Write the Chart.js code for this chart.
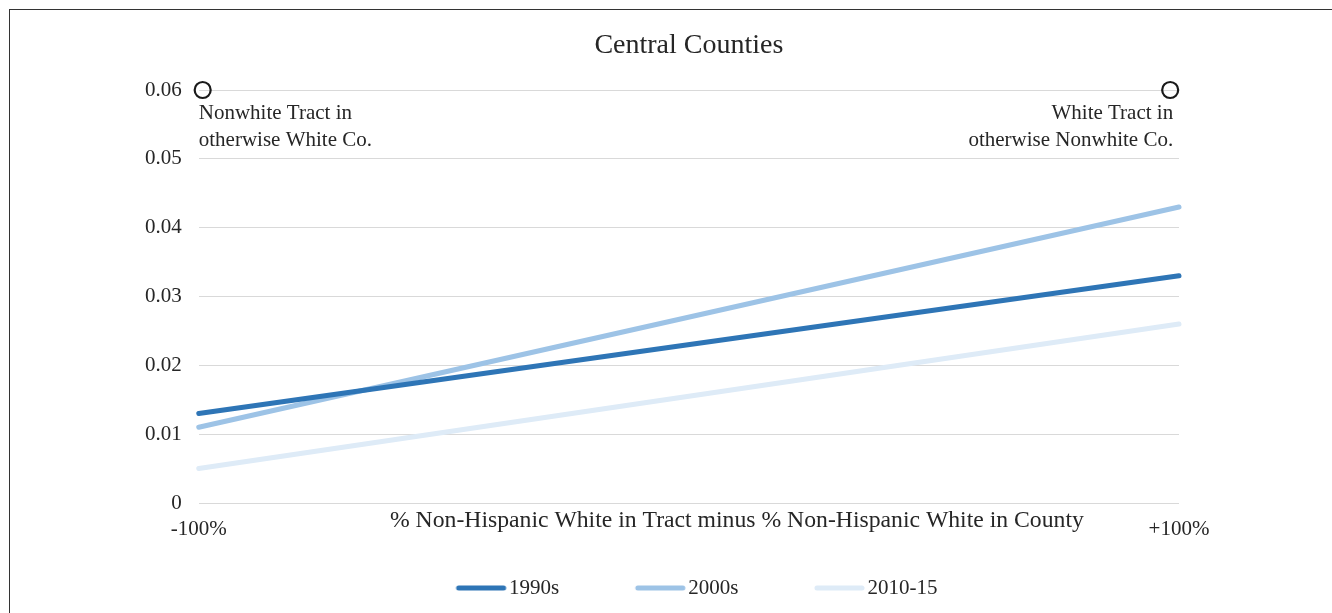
<!DOCTYPE html>
<html>
<head>
<meta charset="utf-8">
<script src="https://cdn.jsdelivr.net/npm/chart.js@4.4.1/dist/chart.umd.min.js"></script>
<style>
  html, body { margin: 0; padding: 0; background: #fff; overflow: hidden; }
  #frame {
    position: absolute; left: 9px; top: 9px; width: 2000px; height: 2000px;
    border-top: 1.5px solid #333; border-left: 1.5px solid #333;
  }
  #wrap { position: absolute; left: 0; top: 0; width: 1332px; height: 613px; }
</style>
</head>
<body>
<div id="frame"></div>
<div id="wrap"><canvas id="chart"></canvas></div>
<script>
// data
const xEnds = [-100, 100];
const seriesNames = ['1990s', '2000s', '2010-15'];
const values1990s = [0.013, 0.033];
const values2000s = [0.011, 0.043];
const values2010s = [0.005, 0.026];
const seriesColors = ['#2E75B6', '#9DC3E6', '#DEEBF7'];

const xTickValues = [-100, 100];
const xTickLabels = ['-100%', '+100%'];
const xAxisTitle = '% Non-Hispanic White in Tract minus % Non-Hispanic White in County';

const markerX = [-99.2, 98.2];
const markerY = [0.06, 0.06];
const noteLeft = ['Nonwhite Tract in', 'otherwise White Co.'];
const noteRight = ['White Tract in', 'otherwise Nonwhite Co.'];

const serif = '"Liberation Serif", "Times New Roman", serif';
const textColor = '#262626';

function toPoints(xs, ys) {
    return xs.map((x, i) => ({ x: x, y: ys[i] }));
}

// legend symbol: a short thick line at the right end of a wide box
function legendSymbol(color) {
    const c = document.createElement('canvas');
    c.width = 120;
    c.height = 8;
    const g = c.getContext('2d');
    g.strokeStyle = color;
    g.lineWidth = 5;
    g.lineCap = 'round';
    g.beginPath();
    g.moveTo(68, 4);
    g.lineTo(113, 4);
    g.stroke();
    return c;
}
const legendSymbols = seriesColors.map(legendSymbol);

const lineSets = [values1990s, values2000s, values2010s].map((vals, i) => ({
    label: seriesNames[i],
    data: toPoints(xEnds, vals),
    showLine: true,
    clip: false,
    borderColor: seriesColors[i],
    backgroundColor: seriesColors[i],
    borderWidth: 5,
    borderCapStyle: 'round',
    pointRadius: 0,
    pointHoverRadius: 0
}));

const markerSet = {
    label: 'markers',
    data: toPoints(markerX, markerY),
    showLine: false,
    clip: false,
    pointRadius: 8,
    pointHoverRadius: 8,
    pointBorderWidth: 2.2,
    pointBorderColor: '#1a1a1a',
    pointBackgroundColor: 'rgba(255,255,255,0)'
};

// corner notes under the circles, and the x axis title (sits right of centre)
const notesPlugin = {
    id: 'notes',
    afterDatasetsDraw(chart) {
        const ctx = chart.ctx;
        const xs = chart.scales.x;
        const ys = chart.scales.y;
        const top = ys.getPixelForValue(markerY[0]);
        ctx.save();
        ctx.font = '21px ' + serif;
        ctx.fillStyle = textColor;
        ctx.textBaseline = 'middle';
        ctx.textAlign = 'left';
        const lx = xs.getPixelForValue(xEnds[0]);
        noteLeft.forEach((t, i) => ctx.fillText(t, lx, top + 23 + i * 27));
        ctx.textAlign = 'right';
        const rx = xs.getPixelForValue(markerX[1]) + 3;
        noteRight.forEach((t, i) => ctx.fillText(t, rx, top + 23 + i * 27));

        ctx.font = '23.7px ' + serif;
        ctx.textAlign = 'center';
        const area = chart.chartArea;
        ctx.fillText(xAxisTitle, (area.left + area.right) / 2 + 48, area.bottom + 17.3);
        ctx.restore();
    }
};

new Chart(document.getElementById('chart'), {
    type: 'scatter',
    data: { datasets: [...lineSets, markerSet] },
    plugins: [notesPlugin],
    options: {
        responsive: true,
        maintainAspectRatio: false,
        animation: false,
        layout: {
            padding: { left: 128, right: 120, top: 10, bottom: 4.5 }
        },
        scales: {
            x: {
                type: 'linear',
                min: xEnds[0],
                max: xEnds[1],
                afterBuildTicks: scale => {
                    scale.ticks = xTickValues.map(v => ({ value: v }));
                },
                ticks: {
                    padding: 13.4,
                    color: textColor,
                    font: { family: serif, size: 21 },
                    maxRotation: 0,
                    autoSkip: false,
                    callback: value => xTickLabels[xTickValues.indexOf(value)]
                },
                grid: { display: false, drawTicks: false },
                border: { display: false }
            },
            y: {
                min: 0,
                max: 0.06,
                ticks: {
                    stepSize: 0.01,
                    padding: 17,
                    color: textColor,
                    font: { family: serif, size: 21 }
                },
                grid: { color: '#d9d9d9', lineWidth: 1, drawTicks: false },
                border: { display: false }
            },
            // empty right-hand axis, only to hold space
            y2: {
                position: 'right',
                display: true,
                ticks: { display: false },
                grid: { display: false, drawTicks: false },
                border: { display: false },
                afterFit: scale => { scale.width = 33; }
            }
        },
        plugins: {
            title: {
                display: true,
                text: 'Central Counties',
                color: textColor,
                fullSize: false,
                font: { family: serif, size: 28, weight: 'normal' },
                padding: { top: 19.2, bottom: 27.2 }
            },
            legend: {
                position: 'bottom',
                labels: {
                    usePointStyle: true,
                    pointStyleWidth: 96,
                    padding: 22.5,
                    color: textColor,
                    font: { family: serif, size: 21 },
                    filter: item => item.datasetIndex < lineSets.length,
                    generateLabels: chart => Chart.defaults.plugins.legend.labels.generateLabels(chart).map(item => {
                        return Object.assign(item, {
                            pointStyle: legendSymbols[item.datasetIndex] || 'line'
                        });
                    })
                }
            },
            tooltip: { enabled: false }
        }
    }
});
</script>
</body>
</html>
